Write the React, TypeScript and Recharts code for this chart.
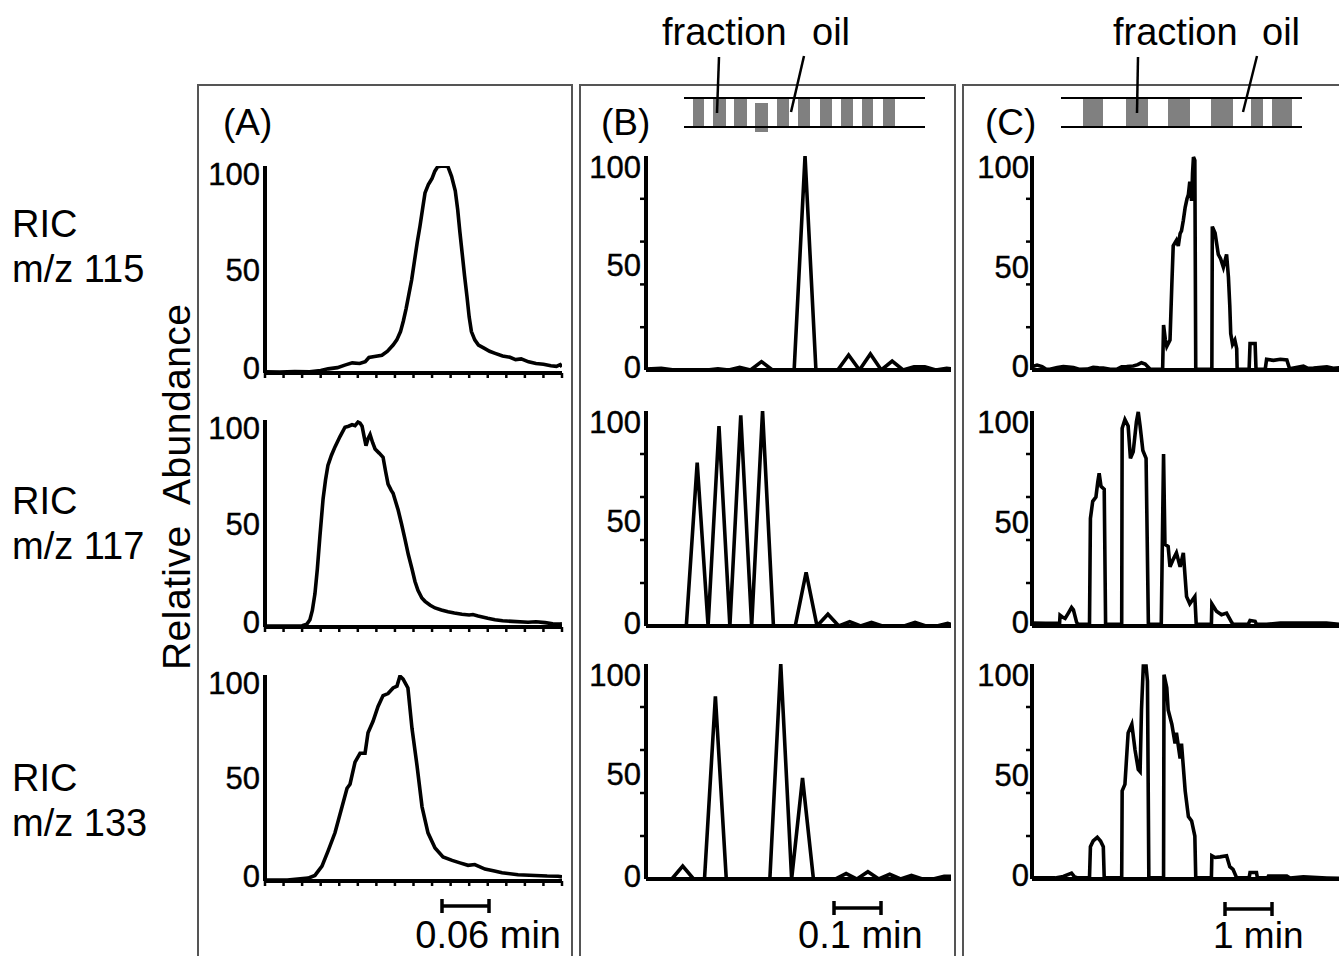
import React from "react";
import { LineChart, Line, XAxis, YAxis } from "recharts";

// relative abundance traces, [time, value]; time in tick units (A), scan index (B), minutes (C)
const a115 = [
  [0, 0.6], [0.8, 0.5], [1.6, 0.7], [2.4, 0.6], [3.0, 1.2], [3.4, 2.0], [3.9, 2.6], [4.3, 3.8],
  [4.7, 4.9], [5.1, 4.6], [5.4, 5.5], [5.6, 7.5], [5.9, 8.0], [6.3, 8.6], [6.6, 10.5], [6.9, 13.5],
  [7.1, 16], [7.3, 20], [7.45, 25], [7.6, 31], [7.75, 38], [7.9, 45], [8.05, 54], [8.2, 63],
  [8.35, 71], [8.5, 80], [8.62, 87], [8.8, 91], [9.0, 94], [9.15, 97.5], [9.3, 99.6], [9.55, 100],
  [9.85, 99.8], [10.05, 95], [10.25, 88], [10.38, 79], [10.5, 68], [10.62, 58], [10.75, 47],
  [10.88, 37], [11.0, 27], [11.12, 20], [11.3, 16], [11.5, 13.5], [11.8, 12], [12.1, 10.5],
  [12.4, 9.5], [12.8, 8.2], [13.2, 7.6], [13.5, 6.5], [13.8, 6.8], [14.2, 5.4], [14.6, 4.6],
  [15.0, 4.2], [15.4, 3.5], [15.7, 3.2], [15.9, 4.0], [16, 3.0],
];
const a117 = [
  [0, 0.5], [1.0, 0.5], [2.0, 0.6], [2.26, 1.4], [2.42, 3.5], [2.55, 8], [2.69, 16], [2.82, 28],
  [2.96, 44], [3.13, 62], [3.26, 71], [3.39, 78], [3.58, 83], [3.77, 87], [4.04, 92], [4.31, 96.5],
  [4.5, 97], [4.69, 97.7], [4.85, 97.3], [5.01, 99], [5.12, 98.5], [5.23, 97], [5.34, 92],
  [5.44, 87.6], [5.55, 91], [5.66, 93], [5.8, 89], [5.93, 86], [6.15, 84], [6.36, 82], [6.5, 75],
  [6.63, 69], [6.8, 66], [6.9, 64.6], [7.17, 56.6], [7.35, 50], [7.54, 42.5], [7.72, 35],
  [7.92, 28], [8.08, 22], [8.24, 17.7], [8.45, 14], [8.62, 12.4], [8.9, 10.5], [9.16, 9.2],
  [9.5, 8.2], [9.86, 7.4], [10.2, 6.8], [10.61, 6.2], [11.0, 5.8], [11.2, 6.0], [11.48, 5.3],
  [12.0, 4.2], [12.39, 3.5], [12.8, 3.0], [13.31, 2.7], [14.17, 2.3], [14.6, 2.5], [15.09, 2.1],
  [15.5, 1.6], [15.89, 1.4], [16, 1.5],
];
const a133 = [
  [0, 0.5], [1.2, 0.5], [2.32, 1.4], [2.69, 2.7], [3.07, 7.2], [3.39, 14.4], [3.77, 23.4],
  [4.15, 36], [4.42, 45], [4.58, 47], [4.85, 57.7], [5.12, 62], [5.39, 62], [5.55, 72],
  [5.82, 77.5], [6.09, 84.7], [6.36, 90], [6.63, 91], [6.9, 93.7], [7.11, 94.6], [7.27, 99.5],
  [7.44, 98], [7.7, 93.7], [7.92, 74], [8.19, 56], [8.46, 36], [8.78, 23.4], [9.16, 16],
  [9.59, 11.7], [10.08, 10], [10.5, 8.8], [10.94, 7.6], [11.3, 8.0], [11.85, 5.8], [12.3, 5.0],
  [12.77, 4.0], [13.63, 3.0], [14.55, 2.7], [15.2, 2.4], [15.79, 2.3], [16, 2.0],
];

const b115 = [
  [0.3, 0.5], [1.7, 0.8], [2.9, 0], [5.9, 0], [6.9, 0.5], [7.9, 0], [8.9, 1.2], [9.9, 0],
  [10.9, 3.9], [11.9, 0], [13.9, 0], [14.9, 100], [15.9, 0], [17.9, 0], [18.9, 7], [19.9, 0],
  [20.9, 7.5], [21.9, 0], [22.9, 4.2], [23.9, 0], [24.9, 1.5], [25.9, 1.5], [26.9, 0],
  [27.9, 0.8], [28.3, 0.5],
];
const b117 = [
  [0.3, 0], [4, 0], [5, 76], [6, 0], [7, 93], [8, 0], [9, 98], [10, 0], [11, 100], [12, 0],
  [14, 0], [15, 25], [16, 0], [17, 5.5], [18, 0], [19, 2], [20, 0], [21, 1.7], [22, 0], [24, 0],
  [25, 1.7], [26, 0], [27, 0], [28, 1.2], [28.3, 0.8],
];
const b133 = [
  [0.3, 0], [2.67, 0], [3.67, 6], [4.67, 0], [5.67, 0], [6.67, 85], [7.67, 0], [11.67, 0],
  [12.67, 100], [13.67, 0], [14.67, 47], [15.67, 0], [17.67, 0], [18.67, 2.5], [19.67, 0],
  [20.67, 3.4], [21.67, 0], [22.67, 2.2], [23.67, 0], [24.67, 1.7], [25.67, 0], [26.67, 0],
  [27.67, 1.2], [28.3, 1.2],
];

const c115 = [
  [0, 1.5], [0.11, 2.3], [0.22, 1.6], [0.3, 0.5], [0.39, 0.3], [0.55, 1.2], [0.68, 1.6],
  [0.8, 1.4], [0.9, 1.2], [1.04, 0.3], [1.2, 0.4], [1.33, 1.2], [1.45, 1.0], [1.55, 0.9],
  [1.7, 0.3], [1.84, 0.3], [1.95, 1.5], [2.06, 1.6], [2.2, 1.9], [2.3, 2.5], [2.38, 3.4],
  [2.46, 2.8], [2.57, 0.3], [2.84, 0.3], [2.86, 21], [2.9, 14], [2.93, 11], [3.0, 14],
  [3.04, 40], [3.07, 58], [3.14, 60.6], [3.18, 58], [3.22, 63.8], [3.25, 65], [3.29, 70],
  [3.33, 76], [3.37, 80], [3.4, 82], [3.43, 88], [3.47, 79], [3.49, 92], [3.51, 99.5],
  [3.54, 98], [3.56, 0.3], [3.91, 0.3], [3.92, 67], [3.98, 64], [4.05, 54], [4.1, 52],
  [4.16, 48], [4.23, 54], [4.27, 43.5], [4.3, 30], [4.32, 17], [4.36, 12], [4.41, 14],
  [4.45, 10], [4.46, 0.3], [4.72, 0.3], [4.74, 12.4], [4.85, 12.4], [4.87, 0.3], [5.07, 0.3],
  [5.1, 5], [5.25, 4.5], [5.4, 5], [5.54, 4.7], [5.6, 0.6], [5.9, 1.8], [6.0, 0.8], [6.12, 0.9],
  [6.3, 1.3], [6.41, 1.5], [6.55, 0.8], [6.67, 1.0], [6.8, 0.8],
];
const c117 = [
  [0, 1.4], [0.3, 1.2], [0.6, 1.4], [0.61, 5], [0.65, 4.3], [0.72, 3.5], [0.79, 6], [0.86, 8.6],
  [0.9, 7.5], [0.97, 1.7], [1.0, 0.8], [1.25, 0.8], [1.27, 50], [1.32, 58], [1.39, 60],
  [1.43, 67], [1.46, 71], [1.5, 65], [1.57, 63.6], [1.6, 0.8], [1.95, 0.8], [1.96, 92],
  [2.02, 96], [2.09, 93], [2.14, 78], [2.2, 81], [2.27, 95], [2.31, 99.6], [2.35, 93],
  [2.41, 81.6], [2.48, 78], [2.53, 0.8], [2.81, 0.8], [2.86, 80], [2.89, 38], [2.96, 37],
  [3.0, 27.5], [3.07, 31], [3.14, 34], [3.22, 27.5], [3.29, 34], [3.36, 13.7], [3.43, 10.3],
  [3.54, 13.7], [3.57, 0.8], [3.9, 0.8], [3.91, 10.3], [4.01, 6.9], [4.12, 5.2], [4.23, 6],
  [4.34, 1.7], [4.37, 0.8], [4.7, 0.8], [4.74, 2.6], [4.85, 2.2], [4.88, 0.8], [5.1, 0.8],
  [5.4, 1.4], [5.9, 1.4], [6.4, 1.4], [6.67, 0.8], [6.8, 1.0],
];
const c133 = [
  [0, 0.5], [0.5, 0.5], [0.68, 1.2], [0.86, 2.7], [0.93, 0.9], [1.0, 0.5], [1.25, 0.5],
  [1.27, 15], [1.33, 17.7], [1.42, 19.4], [1.49, 17.7], [1.55, 15], [1.57, 0.5], [1.95, 0.5],
  [1.96, 41], [2.02, 44], [2.09, 68], [2.17, 72], [2.24, 60], [2.31, 51], [2.35, 50],
  [2.38, 78.6], [2.42, 99], [2.48, 99], [2.51, 92], [2.54, 0.5], [2.86, 0.5], [2.87, 95],
  [2.93, 89], [2.96, 78.6], [3.04, 72], [3.11, 63], [3.14, 68], [3.22, 56], [3.25, 63],
  [3.33, 41], [3.4, 29], [3.47, 27], [3.54, 20], [3.56, 0.5], [3.9, 0.5], [3.91, 10.8],
  [3.98, 10], [4.09, 10.3], [4.23, 10.8], [4.3, 5.7], [4.37, 4.5], [4.45, 0.5], [4.72, 0.5],
  [4.74, 3], [4.88, 3], [4.9, 0.5], [5.12, 0.5], [5.14, 1.4], [5.54, 1.4], [5.61, 0.5],
  [5.9, 1.0], [6.41, 0.5], [6.67, 0.3], [6.8, 0.3],
];

const ionLabels = ["m/z 115", "m/z 117", "m/z 133"];
const panelLetters = ["(A)", "(B)", "(C)"];
const scaleLabels = ["0.06 min", "0.1 min", "1 min"];
const yLabelTicks = [0, 50, 100];
const yMinorTicks = [20, 40, 60, 80];
const aTimeTicks = [0, 1, 2, 3, 4, 5, 6, 7, 8, 9, 10, 11, 12, 13, 14, 15, 16];

const FONT = '"Liberation Sans", Arial, Helvetica, sans-serif';
const toPts = (rows: number[][]) => rows.map(([t, v]) => ({ t, v }));

type Col = {
  x0: number;
  x1: number;
  domain: [number, number];
  rows: [number, number][];
  labelDy: Record<number, number>;
  labelGap: number;
  minor: boolean;
  xTicks: boolean;
  series: number[][][];
};

const cols: Col[] = [
  {
    x0: 265, x1: 562, domain: [0, 16],
    rows: [[166, 373], [420, 627], [675, 881]],
    labelDy: { 100: 8, 50: 0, 0: -5 }, labelGap: 5, minor: false, xTicks: true,
    series: [a115, a117, a133],
  },
  {
    x0: 646, x1: 951, domain: [0.3, 28.3],
    rows: [[156, 370], [411, 626], [664, 879]],
    labelDy: { 100: 11, 50: 2, 0: -3 }, labelGap: 5, minor: true, xTicks: false,
    series: [b115, b117, b133],
  },
  {
    x0: 1032, x1: 1032 + 6.8 * 46, domain: [0, 6.8],
    rows: [[156, 370], [411, 626], [664, 879]],
    labelDy: { 100: 11, 50: 4, 0: -4 }, labelGap: 3, minor: true, xTicks: false,
    series: [c115, c117, c133],
  },
];

const YTick = (props: any) => {
  const { x, y, payload, col } = props;
  const v = payload.value;
  if (yMinorTicks.includes(v)) {
    return <line x1={x - 6} x2={x} y1={y} y2={y} stroke="#000" strokeWidth={2.5} />;
  }
  return (
    <text x={x - col.labelGap} y={y + col.labelDy[v] + 11} textAnchor="end" fontSize={31} fontFamily={FONT} fill="#000" stroke="#000" strokeWidth={0.4}>
      {v}
    </text>
  );
};

function Trace({ col, row, data }: { col: Col; row: [number, number]; data: number[][] }) {
  const ML = 60, MT = 8, XH = 20, MR = 6;
  const [yTop, yZero] = row;
  const w = col.x1 - col.x0 + ML + MR;
  const h = yZero - yTop + MT + XH;
  return (
    <div style={{ position: "absolute", left: col.x0 - ML, top: yTop - MT }}>
      <LineChart width={w} height={h} data={toPts(data)} margin={{ top: MT, right: MR, bottom: 0, left: 0 }}>
        <XAxis
          type="number"
          dataKey="t"
          domain={col.domain}
          allowDataOverflow
          height={XH}
          ticks={col.xTicks ? aTimeTicks : []}
          interval={0}
          stroke="#000"
          axisLine={{ stroke: "#000", strokeWidth: 4 }}
          tickLine={col.xTicks ? { stroke: "#000", strokeWidth: 2.5 } : false}
          tickSize={5}
          tick={() => <g />}
        />
        <YAxis
          type="number"
          domain={[0, 100]}
          allowDataOverflow
          width={ML}
          ticks={col.minor ? [...yLabelTicks, ...yMinorTicks].sort((a, b) => a - b) : yLabelTicks}
          interval={0}
          stroke="#000"
          axisLine={{ stroke: "#000", strokeWidth: 4 }}
          tickLine={false}
          tickSize={0}
          tickMargin={0}
          tick={(p: any) => <YTick {...p} col={col} />}
        />
        <Line type="linear" dataKey="v" stroke="#000" strokeWidth={3.6} dot={false} isAnimationActive={false} />
      </LineChart>
    </div>
  );
}

const bStrips = [[693, 704, 0], [713, 726, 0], [734, 747, 0], [755, 768, 5], [777, 789, 0], [798, 810, 0], [820, 832, 0], [841, 853, 0], [862, 873, 0], [883, 895, 0]];
const cStrips = [[1083, 1103, 0], [1126, 1148, 0], [1168, 1190, 0], [1211, 1233, 0], [1251, 1263, 0], [1272, 1292, 0]];

function Overlay() {
  const txt = { fontFamily: FONT, fill: "#000" } as const;
  const diagram = (x0: number, x1: number, strips: number[][], fx: number, oilX: number, fl: number[], ol: number[]) => (
    <g>
      {strips.map(([a, b, dy], i) => (
        <rect key={i} x={a} y={98 + dy} width={b - a} height={29} fill="#808080" />
      ))}
      <line x1={x0} x2={x1} y1={98} y2={98} stroke="#000" strokeWidth={2} />
      <line x1={x0} x2={x1} y1={127} y2={127} stroke="#000" strokeWidth={2} />
      <text x={fx} y={45} fontSize={38} {...txt}>fraction</text>
      <text x={oilX} y={45} fontSize={38} {...txt}>oil</text>
      <line x1={fl[0]} y1={57} x2={fl[1]} y2={113} stroke="#000" strokeWidth={2.5} />
      <line x1={ol[0]} y1={56} x2={ol[1]} y2={112} stroke="#000" strokeWidth={2.5} />
    </g>
  );
  const bar = (a: number, b: number, y: number) => (
    <g stroke="#000" strokeWidth={3.5}>
      <line x1={a} x2={b} y1={y} y2={y} />
      <line x1={a} x2={a} y1={y - 7} y2={y + 7} />
      <line x1={b} x2={b} y1={y - 7} y2={y + 7} />
    </g>
  );
  return (
    <svg width={1339} height={956} style={{ position: "absolute", left: 0, top: 0, pointerEvents: "none" }}>
      {ionLabels.map((lab, i) => (
        <g key={lab}>
          <text x={12} y={237 + i * 277} fontSize={38} {...txt}>RIC</text>
          <text x={12} y={282 + i * 277} fontSize={38} {...txt}>{lab}</text>
        </g>
      ))}
      <text x={190} y={487} fontSize={39} textAnchor="middle" transform="rotate(-90 190 487)" style={{ whiteSpace: "pre" }} textLength={366} {...txt}>
        {"Relative  Abundance"}
      </text>
      <text x={223} y={135} fontSize={37} {...txt}>{panelLetters[0]}</text>
      <text x={601} y={135} fontSize={37} {...txt}>{panelLetters[1]}</text>
      <text x={985} y={135} fontSize={37} {...txt}>{panelLetters[2]}</text>
      {diagram(684, 925, bStrips, 662, 812, [719, 717], [804, 791])}
      {diagram(1061, 1302, cStrips, 1113, 1262, [1138, 1137], [1257, 1243])}
      {bar(442, 489, 906)}
      {bar(834, 881, 908)}
      {bar(1225, 1272, 909)}
      <text x={561} y={948} fontSize={38} textAnchor="end" {...txt}>{scaleLabels[0]}</text>
      <text x={798} y={948} fontSize={38} {...txt}>{scaleLabels[1]}</text>
      <text x={1213} y={948} fontSize={37} {...txt}>{scaleLabels[2]}</text>
    </svg>
  );
}

export default function App() {
  const frame = (left: number, width: number) => (
    <div style={{ position: "absolute", left, top: 84, width, height: 1000, border: "2px solid #555", boxSizing: "border-box" }} />
  );
  return (
    <div style={{ position: "absolute", left: 0, top: 0, width: 1339, height: 956, overflow: "hidden", background: "#fff", fontFamily: FONT }}>
      {frame(197, 376)}
      {frame(579, 377)}
      {frame(962, 500)}
      {cols.map((col, ci) =>
        col.rows.map((row, ri) => <Trace key={`${ci}-${ri}`} col={col} row={row} data={col.series[ri]} />)
      )}
      <Overlay />
    </div>
  );
}
